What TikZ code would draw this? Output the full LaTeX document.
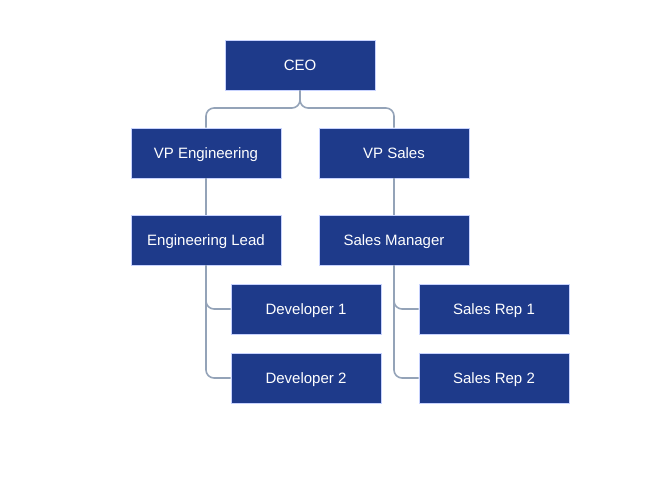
\documentclass[tikz,border=0pt]{standalone}
\usepackage{fontspec}
\setmainfont{Liberation Sans}
\definecolor{boxfill}{HTML}{1E3A8A}
\definecolor{boxline}{HTML}{C7D2FE}
\definecolor{connc}{HTML}{94A3B8}
\begin{document}
\begin{tikzpicture}[x=1pt,y=-1pt,
  orgbox/.style={rectangle,fill=boxfill,draw=boxline,line width=0.8pt,minimum width=150pt,minimum height=50pt,text=white,font=\fontsize{15}{18}\selectfont,inner sep=0pt,text height=10.7pt,text depth=0pt},
  conn/.style={draw=connc,line width=1.6pt,rounded corners=8pt}]
\useasboundingbox (0,0) rectangle (668,477);
\node[orgbox] (ceo) at (300,65) {CEO};
\node[orgbox] (vpe) at (206,153) {VP Engineering};
\node[orgbox] (vps) at (394,153) {VP Sales};
\node[orgbox] (el) at (206,240) {Engineering Lead};
\node[orgbox] (sm) at (394,240) {Sales Manager};
\node[orgbox] (d1) at (306,309) {Developer 1};
\node[orgbox] (d2) at (306,378) {Developer 2};
\node[orgbox] (s1) at (494,309) {Sales Rep 1};
\node[orgbox] (s2) at (494,378) {Sales Rep 2};
\coordinate (m) at (300,108);
\draw[conn] (ceo.south) -- (m) -| (vpe.north);
\draw[conn] (ceo.south) -- (m) -| (vps.north);
\draw[conn] (vpe.south) -- (el.north);
\draw[conn] (vps.south) -- (sm.north);
\draw[conn] (el.south) |- (d1.west);
\draw[conn] (el.south) |- (d2.west);
\draw[conn] (sm.south) |- (s1.west);
\draw[conn] (sm.south) |- (s2.west);
\end{tikzpicture}
\end{document}
